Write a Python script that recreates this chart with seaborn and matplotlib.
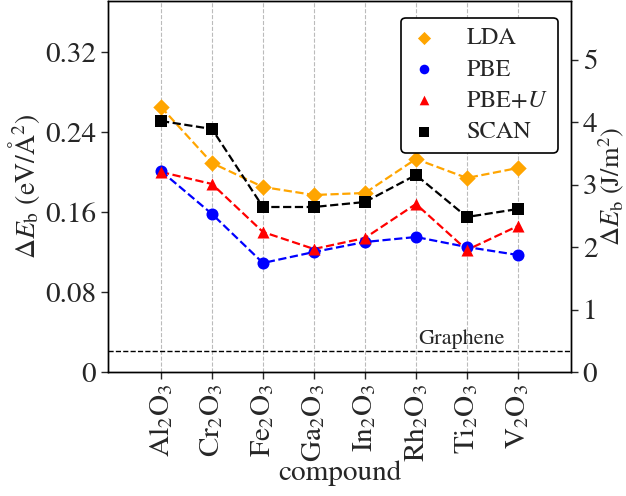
import numpy as np
import pandas as pd
import seaborn as sns
import matplotlib.pyplot as plt

sns.set_style("ticks")
plt.rcParams['font.family'] = ['STIXGeneral', 'DejaVu Serif']
plt.rcParams['mathtext.fontset'] = 'stix'

compounds = ['Al2O3', 'Cr2O3', 'Fe2O3', 'Ga2O3', 'In2O3', 'Rh2O3', 'Ti2O3', 'V2O3']
tick_labels = [r'$\mathrm{Al_2O_3}$', r'$\mathrm{Cr_2O_3}$', r'$\mathrm{Fe_2O_3}$', r'$\mathrm{Ga_2O_3}$',
               r'$\mathrm{In_2O_3}$', r'$\mathrm{Rh_2O_3}$', r'$\mathrm{Ti_2O_3}$', r'$\mathrm{V_2O_3}$']

lda = [0.265, 0.209, 0.185, 0.177, 0.179, 0.213, 0.194, 0.204]
pbe = [0.201, 0.158, 0.109, 0.120, 0.130, 0.135, 0.125, 0.117]
pbe_u = [0.200, 0.188, 0.140, 0.123, 0.134, 0.168, 0.122, 0.146]
scan = [0.251, 0.243, 0.165, 0.165, 0.170, 0.197, 0.155, 0.163]
graphene = 0.021

EV_A2_TO_J_M2 = 16.0218

series = [
    ('LDA', lda, 'orange', 'D'),
    ('PBE', pbe, 'blue', 'o'),
    (r'PBE+$U$', pbe_u, 'red', '^'),
    ('SCAN', scan, 'black', 's'),
]

fig = plt.figure(figsize=(6.26, 4.96), dpi=100)
ax = fig.add_axes([0.1725, 0.25, 0.7395, 0.748])
x = np.arange(len(compounds))

for name, vals, col, mk in series:
    df = pd.DataFrame({'x': x, 'y': vals})
    sns.lineplot(data=df, x='x', y='y', ax=ax, color=col, linestyle='--', linewidth=1.6)
    ax.scatter(x, vals, color=col, marker=mk, s=75 if mk != 'D' else 70, zorder=3,
               label=name, linewidths=0)

ax.axhline(graphene, color='black', linestyle='--', linewidth=1.0)
ax.text(5.9, graphene + 0.002, 'Graphene', fontsize=16, ha='center', va='bottom')

ax.set_xlim(-1.04, 8.04)
ax.set_ylim(0, 0.371)
ax.set_xticks(x)
ax.set_xticklabels(tick_labels, rotation=90, fontsize=21)
ax.set_yticks([0, 0.08, 0.16, 0.24, 0.32])
ax.set_yticklabels(['0', '0.08', '0.16', '0.24', '0.32'], fontsize=21)
ax.xaxis.grid(True, linestyle='--', color='#bbbbbb', linewidth=0.8)
ax.set_xlabel('compound', fontsize=21, labelpad=-1)
ax.set_ylabel(r'$\Delta E_{\mathrm{b}}$ (eV/$\mathrm{\AA}^2$)', fontsize=20, labelpad=2)
ax.tick_params(direction='out', length=5, width=1)

ax2 = ax.twinx()
ax2.set_ylim(0, 0.371 * EV_A2_TO_J_M2)
ax2.set_yticks([0, 1, 2, 3, 4, 5])
ax2.set_yticklabels(['0', '1', '2', '3', '4', '5'], fontsize=21)
ax2.set_ylabel(r'$\Delta E_{\mathrm{b}}$ (J/m$^2$)', fontsize=19, labelpad=-1)
ax2.tick_params(direction='out', length=5, width=1)

for a in (ax, ax2):
    for s in a.spines.values():
        s.set_color('black')
        s.set_linewidth(1.0)

leg = ax.legend(loc='upper right', fontsize=17.5, frameon=True, edgecolor='black',
                fancybox=True, handletextpad=1.2, handlelength=1.1, borderpad=0.4,
                labelspacing=0.38, markerscale=0.8, bbox_to_anchor=(0.998, 0.988))
leg.get_frame().set_linewidth(1.2)
leg.get_frame().set_alpha(1)

fig.savefig('out.png', dpi=100)
